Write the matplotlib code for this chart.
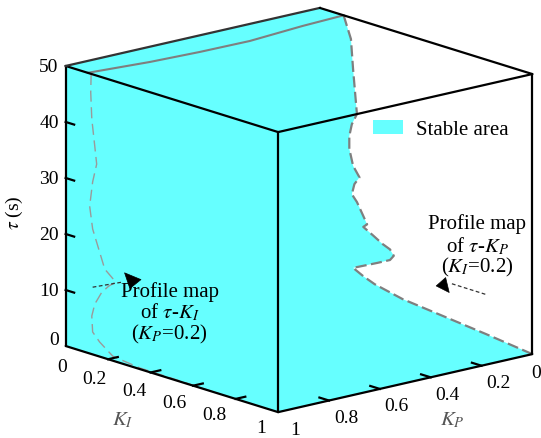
import numpy as np
import matplotlib
matplotlib.use('Agg')
import matplotlib.pyplot as plt
from matplotlib.patches import Patch
from mpl_toolkits.mplot3d import proj3d
from mpl_toolkits.mplot3d.art3d import Poly3DCollection

plt.rcParams['font.family'] = 'Liberation Serif'
plt.rcParams['mathtext.fontset'] = 'stix'

CYAN = '#66FFFF'
GRAY = '#7F7F7F'

# --- Axis ticks ---
tau_ticks = [0, 10, 20, 30, 40, 50]
ki_ticks = [0, 0.2, 0.4, 0.6, 0.8, 1]
kp_ticks = [0, 0.2, 0.4, 0.6, 0.8, 1]
tick_text = ['0', '0.2', '0.4', '0.6', '0.8', '1']

# --- Stability boundary on the K_I = 1 face (tau vs K_P), bottom to top ---
front_kp = [0.0, 0.18, 0.35, 0.51, 0.62, 0.665, 0.705, 0.61, 0.56, 0.545, 0.56,
            0.59, 0.625, 0.665, 0.65, 0.69, 0.71, 0.70, 0.68, 0.705, 0.72,
            0.72, 0.71, 0.69]
front_tau = [0.0, 5.4, 10.4, 15.1, 18.9, 20.8, 22.7, 22.6, 22.6, 23.2, 24.5,
             25.8, 27.6, 29.6, 29.9, 34.3, 35.9, 37.6, 38.6, 40.9, 44.1,
             46.4, 48.4, 50.0]

# --- Stability boundary on the top face (tau = 50) ---
top_kp = [0.0, 0.156, 0.37, 0.69]
top_ki = [0.112, 0.333, 0.599, 1.0]

# --- Top edge of the tau-K_I profile (tau = 50) ---
ridge_kp = [1.0, 0.78, 0.594, 0.40, 0.17, 0.0]
ridge_ki = [0.104, 0.133, 0.145, 0.149, 0.123, 0.112]

# --- tau-K_I profile drawn on the K_P = 1 face, top to bottom ---
side_ki = [0.12, 0.118, 0.123, 0.137, 0.146, 0.127, 0.113, 0.127, 0.17, 0.184,
           0.236, 0.203, 0.17, 0.137, 0.123, 0.127, 0.16, 0.222, 0.349, 0.571,
           0.72]
side_tau = [50, 46.7, 42.0, 37.3, 34.2, 30.8, 26.3, 22.4, 17.5, 15.9, 14.2,
            13.1, 11.6, 9.1, 6.8, 4.0, 2.6, 0.8, 0.2, 0.1, 0.0]

# --- Pointer arrows (shaft + head) ---
left_shaft_ki = [0.127, 0.269]
left_shaft_tau = [12.0, 14.6]
left_head_ki = [0.275, 0.352, 0.300]
left_head_tau = [16.4, 16.1, 13.9]

right_shaft_kp = [0.185, 0.323]
right_shaft_tau = [12.6, 16.0]
right_head_kp = [0.343, 0.380, 0.329]
right_head_tau = [17.3, 16.2, 14.5]

fig = plt.figure(figsize=(5.41, 4.39), dpi=100)
ax = fig.add_axes([0.0453, -0.1059, 0.988, 1.2175], projection='3d')
ax.set_proj_type('ortho')
ax.view_init(elev=15.46, azim=49.42)
ax.set_box_aspect((334, 326, 290))
ax.set_xlim(0, 1)
ax.set_ylim(0, 1)
ax.set_zlim(0, 50)
ax.set_axis_off()
ax.computed_zorder = False


def face(verts, z=1):
    pc = Poly3DCollection([verts], facecolor=CYAN, edgecolor='none',
                          linewidth=0, zorder=z)
    ax.add_collection3d(pc, autolim=False)


def label(kp, ki, tau, s, dx=0, dy=0, **kw):
    # place a flat text at the projected position of a 3D point
    x2, y2, _ = proj3d.proj_transform(kp, ki, tau, ax.get_proj())
    kw.setdefault('fontsize', 14)
    ax.annotate(s, (x2, y2), xytext=(dx, dy), textcoords='offset pixels',
                annotation_clip=False, **kw)


# stable area on the three visible faces (x = K_P, y = K_I, z = tau)
face([(0, 0, 50)] + [(p, i, 50) for p, i in zip(top_kp, top_ki)]
     + [(1, 1, 50), (1, 0, 50)])
face([(1, 0, 0), (1, 1, 0), (1, 1, 50), (1, 0, 50)])
face([(1, 1, 0)] + [(p, 1, t) for p, t in zip(front_kp, front_tau)]
     + [(1, 1, 50)])

# boundaries and profiles
ax.plot(front_kp, np.ones(len(front_kp)), front_tau, color=GRAY, lw=1.6,
        dashes=(5, 2), zorder=3)
ax.plot(top_kp, top_ki, np.full(len(top_kp), 50), color=GRAY, lw=1.6,
        dashes=(5, 2), zorder=3)
ax.plot(ridge_kp, ridge_ki, np.full(len(ridge_kp), 50), color=GRAY, lw=1.5,
        zorder=3)
ax.plot(np.ones(len(side_ki)), side_ki, side_tau, color='#9A9A9A', lw=1.0,
        dashes=(8, 4), zorder=3)

# cube edges
edge_kw = dict(color='black', lw=1.6, zorder=4, solid_capstyle='round')
ax.plot([1, 1], [0, 0], [0, 50], **edge_kw)
ax.plot([1, 1], [1, 1], [0, 50], **edge_kw)
ax.plot([0, 0], [1, 1], [0, 50], **edge_kw)
ax.plot([1, 1], [0, 1], [0, 0], **edge_kw)
ax.plot([0, 1], [1, 1], [0, 0], **edge_kw)
ax.plot([1, 1], [0, 1], [50, 50], **edge_kw)
ax.plot([0, 1], [1, 1], [50, 50], **edge_kw)
ax.plot([0, 1], [0, 0], [50, 50], color='#333333', lw=1.6, zorder=4)
ax.plot([0, 0], [0, 1], [50, 50], **edge_kw)

# ticks pointing into the cube
for t in tau_ticks[1:-1]:
    ax.plot([1, 1], [0, 0.04], [t, t], color='black', lw=1.6, zorder=4)
for k in ki_ticks[1:-1]:
    ax.plot([1, 0.962], [k, k], [0, 0], color='black', lw=1.6, zorder=4)
for k in kp_ticks[1:-1]:
    ax.plot([k, k], [1, 0.955], [0, 0], color='black', lw=1.6, zorder=4)

# tick labels
for t in tau_ticks:
    label(1, 0, t, str(t), dx=-7, dy=7 if t == 0 else -1,
          ha='right', va='center')
for k, s in zip(ki_ticks, tick_text):
    label(1, k, 0, s, dx=1 - 13 * k, dy=-(20 - 5 * k), ha='right', va='center')
for k, s in zip(kp_ticks, tick_text):
    if k == 0:
        label(k, 1, 0, s, dx=9, dy=-18, ha='right', va='center')
    else:
        label(k, 1, 0, s, dx=17, dy=-17, ha='center', va='center')

# axis titles
label(1, 0, 25, r'$\tau$ (s)', dx=-51, dy=-6, rotation=90,
      ha='center', va='center', fontsize=14)
label(1, 0.3, 0, r'$K_I$', dx=-7, dy=-54, ha='center', va='center',
      color='#555555', fontsize=15)
label(0.35, 1, 0, r'$K_P$', dx=9, dy=-45, ha='center', va='center',
      color='#555555', fontsize=15)

# profile annotations
for s, dy in zip(['Profile map', r'of $\tau$-$K_I$', r'($K_P$=0.2)'],
                 [21, 0, -22]):
    label(1, 0.49, 11.9, s, dy=dy, ha='center', va='center', fontsize=15)
for s, dy in zip(['Profile map', r'of $\tau$-$K_P$', r'($K_I$=0.2)'],
                 [22, 0, -21]):
    label(0.217, 1, 21.7, s, dy=dy, ha='center', va='center', fontsize=15)

# arrows
ax.plot(np.ones(2), left_shaft_ki, left_shaft_tau, color='#333333', lw=0.9,
        dashes=(3, 2), zorder=5)
ax.add_collection3d(Poly3DCollection(
    [list(zip(np.ones(3), left_head_ki, left_head_tau))],
    facecolor='black', edgecolor='black', linewidth=0.5, zorder=5),
    autolim=False)
ax.plot(right_shaft_kp, np.ones(2), right_shaft_tau, color='#333333', lw=0.9,
        dashes=(3, 2), zorder=5)
ax.add_collection3d(Poly3DCollection(
    [list(zip(right_head_kp, np.ones(3), right_head_tau))],
    facecolor='black', edgecolor='black', linewidth=0.5, zorder=5),
    autolim=False)

ax.set_xlim(0, 1)
ax.set_ylim(0, 1)
ax.set_zlim(0, 50)
ax.set_xticks([])
ax.set_yticks([])
ax.set_zticks([])

ax.legend(handles=[Patch(facecolor=CYAN, edgecolor='none', label='Stable area')],
          loc='center left', bbox_to_anchor=(0.689, 0.702),
          bbox_transform=fig.transFigure, frameon=False, fontsize=15,
          handlelength=1.45, handleheight=0.6, handletextpad=0.65,
          borderpad=0, borderaxespad=0)

fig.savefig('out.png', dpi=100)
